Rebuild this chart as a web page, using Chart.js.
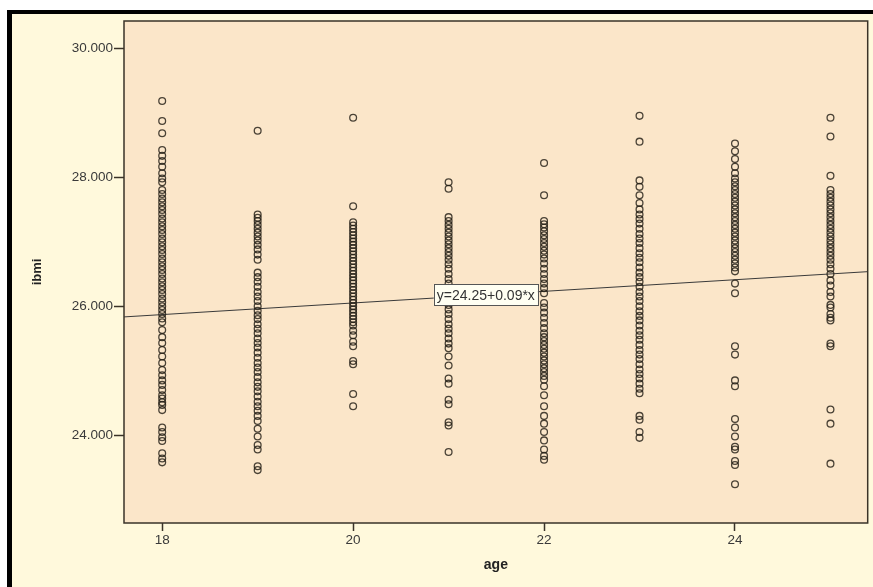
<!DOCTYPE html>
<html>
<head>
<meta charset="utf-8">
<script src="https://cdn.jsdelivr.net/npm/chart.js@4.4.1/dist/chart.umd.min.js"></script>
<style>
html,body{margin:0;padding:0;background:#fff;}
#wrap{width:873px;height:587px;position:relative;}
canvas{display:block;}
</style>
</head>
<body>
<div id="wrap"><canvas id="c" width="873" height="587"></canvas></div>
<script>
// ---- data ----
const ages = [18, 19, 20, 21, 22, 23, 24, 25];
const ibmi18 = [29.18, 28.87, 28.68, 28.42, 28.33, 28.25, 28.16, 28.06, 27.98, 27.92, 27.80, 27.74, 27.67, 27.61, 27.55, 27.49, 27.43, 27.36, 27.30, 27.24, 27.18, 27.12, 27.05, 26.99, 26.93, 26.87, 26.81, 26.74, 26.68, 26.62, 26.56, 26.50, 26.43, 26.37, 26.31, 26.25, 26.19, 26.12, 26.06, 26.00, 25.94, 25.88, 25.81, 25.75, 25.63, 25.52, 25.43, 25.32, 25.22, 25.12, 25.01, 24.93, 24.85, 24.78, 24.70, 24.62, 24.57, 24.51, 24.47, 24.39, 24.12, 24.05, 23.97, 23.91, 23.72, 23.64, 23.58];
const ibmi19 = [28.72, 27.42, 27.37, 27.32, 27.26, 27.20, 27.14, 27.08, 27.02, 26.95, 26.88, 26.80, 26.72, 26.52, 26.45, 26.38, 26.30, 26.22, 26.15, 26.08, 26.00, 25.93, 25.86, 25.80, 25.72, 25.65, 25.58, 25.50, 25.43, 25.36, 25.28, 25.20, 25.12, 25.05, 24.98, 24.90, 24.82, 24.75, 24.68, 24.60, 24.52, 24.45, 24.38, 24.30, 24.22, 24.10, 23.98, 23.85, 23.78, 23.52, 23.46];
const ibmi20 = [28.92, 27.55, 27.30, 27.25, 27.20, 27.15, 27.10, 27.05, 27.00, 26.95, 26.90, 26.85, 26.80, 26.75, 26.70, 26.65, 26.60, 26.55, 26.50, 26.45, 26.40, 26.35, 26.30, 26.25, 26.20, 26.15, 26.10, 26.05, 26.00, 25.95, 25.90, 25.85, 25.80, 25.75, 25.70, 25.62, 25.55, 25.45, 25.38, 25.15, 25.10, 24.64, 24.45];
const ibmi21 = [27.92, 27.82, 27.38, 27.32, 27.26, 27.20, 27.14, 27.08, 27.02, 26.96, 26.90, 26.84, 26.78, 26.72, 26.65, 26.58, 26.50, 26.42, 26.35, 26.25, 26.10, 26.02, 25.95, 25.88, 25.80, 25.72, 25.65, 25.58, 25.50, 25.42, 25.35, 25.22, 25.08, 24.88, 24.80, 24.55, 24.48, 24.20, 24.15, 23.74];
const ibmi22 = [28.22, 27.72, 27.32, 27.27, 27.22, 27.16, 27.10, 27.04, 26.98, 26.92, 26.86, 26.80, 26.74, 26.66, 26.58, 26.50, 26.42, 26.35, 26.28, 26.20, 26.05, 25.98, 25.90, 25.82, 25.74, 25.66, 25.58, 25.52, 25.46, 25.40, 25.34, 25.28, 25.22, 25.16, 25.10, 25.04, 24.98, 24.92, 24.86, 24.76, 24.62, 24.45, 24.30, 24.18, 24.05, 23.92, 23.78, 23.68, 23.62];
const ibmi23 = [28.95, 28.55, 27.95, 27.85, 27.72, 27.60, 27.50, 27.42, 27.35, 27.28, 27.20, 27.12, 27.05, 26.98, 26.90, 26.82, 26.75, 26.68, 26.60, 26.52, 26.45, 26.38, 26.30, 26.22, 26.15, 26.08, 26.00, 25.92, 25.85, 25.78, 25.70, 25.62, 25.55, 25.48, 25.40, 25.32, 25.25, 25.18, 25.10, 25.02, 24.95, 24.88, 24.80, 24.72, 24.65, 24.30, 24.24, 24.05, 23.96];
const ibmi24 = [28.52, 28.40, 28.28, 28.16, 28.06, 27.98, 27.92, 27.86, 27.80, 27.74, 27.68, 27.62, 27.56, 27.50, 27.44, 27.38, 27.32, 27.26, 27.20, 27.14, 27.08, 27.02, 26.96, 26.90, 26.84, 26.78, 26.72, 26.66, 26.60, 26.54, 26.35, 26.20, 25.38, 25.25, 24.85, 24.76, 24.25, 24.12, 23.98, 23.82, 23.78, 23.60, 23.54, 23.24];
const ibmi25 = [28.92, 28.63, 28.02, 27.80, 27.74, 27.68, 27.62, 27.56, 27.50, 27.44, 27.38, 27.32, 27.26, 27.20, 27.14, 27.08, 27.02, 26.96, 26.90, 26.84, 26.78, 26.72, 26.65, 26.58, 26.50, 26.40, 26.32, 26.22, 26.15, 26.02, 25.98, 25.88, 25.82, 25.78, 25.42, 25.38, 24.40, 24.18, 23.56];
const ibmiByAge = [ibmi18, ibmi19, ibmi20, ibmi21, ibmi22, ibmi23, ibmi24, ibmi25];
const fitIntercept = 24.25;
const fitSlope = 0.09;
const fitLabel = 'y=24.25+0.09*x';
const fitLabelAge = 21.39;
const xTicks = [18, 20, 22, 24];
const yTicks = [24, 26, 28, 30];
const xMin = 17.6, xMax = 25.39;
const yMin = 22.64, yMax = 30.42;

// ---- build points ----
const points = [];
ages.forEach((a, i) => ibmiByAge[i].forEach(v => points.push({x: a, y: v})));
const fitLine = [xMin, xMax].map(x => ({x: x, y: fitIntercept + fitSlope * x}));

const OUTER_BG = '#FFF9DC';
const PLOT_BG = '#FBE6C9';
const INK = '#3a3328';
const FONT = '"Liberation Sans", Arial, sans-serif';

const decor = {
  id: 'decor',
  beforeDraw(chart) {
    const ctx = chart.ctx, a = chart.chartArea;
    ctx.save();
    ctx.fillStyle = '#ffffff';
    ctx.fillRect(0, 0, chart.width, chart.height);
    ctx.fillStyle = OUTER_BG;
    ctx.fillRect(7, 10, chart.width - 7, chart.height - 10);
    ctx.fillStyle = '#000';
    ctx.fillRect(7, 10, 5, chart.height - 10);
    ctx.fillRect(7, 10, chart.width - 7, 4);
    ctx.fillStyle = PLOT_BG;
    ctx.fillRect(a.left, a.top, a.right - a.left, a.bottom - a.top);
    ctx.restore();
  },
  afterDraw(chart) {
    const ctx = chart.ctx, a = chart.chartArea;
    ctx.save();
    ctx.strokeStyle = INK;
    ctx.lineWidth = 1.5;
    ctx.strokeRect(a.left, a.top, a.right - a.left, a.bottom - a.top);
    // fit label
    const xs = chart.scales.x, ys = chart.scales.y;
    const cx = xs.getPixelForValue(fitLabelAge);
    const cy = ys.getPixelForValue(fitIntercept + fitSlope * fitLabelAge);
    ctx.font = '14px ' + FONT;
    const w = ctx.measureText(fitLabel).width + 6;
    const h = 21;
    ctx.fillStyle = '#FFFFF2';
    ctx.fillRect(cx - w / 2, cy - h / 2, w, h);
    ctx.strokeStyle = '#555';
    ctx.lineWidth = 1;
    ctx.strokeRect(Math.round(cx - w / 2) + 0.5, Math.round(cy - h / 2) + 0.5, Math.round(w), h);
    ctx.fillStyle = '#333';
    ctx.textAlign = 'center';
    ctx.textBaseline = 'middle';
    ctx.fillText(fitLabel, cx, cy + 1);
    ctx.restore();
  }
};

new Chart(document.getElementById('c'), {
  type: 'scatter',
  data: {
    datasets: [
      {
        type: 'line',
        data: fitLine,
        borderColor: '#3a3a3a',
        borderWidth: 1,
        pointRadius: 0,
        fill: false,
        order: 2
      },
      {
        data: points,
        pointRadius: 3.4,
        pointStyle: 'circle',
        borderWidth: 1.3,
        borderColor: 'rgba(35,30,22,0.82)',
        backgroundColor: 'rgba(0,0,0,0)',
        order: 1
      }
    ]
  },
  options: {
    responsive: false,
    animation: false,
    events: [],
    layout: {padding: {left: 0, top: 21, right: 4, bottom: 0}},
    plugins: {legend: {display: false}, tooltip: {enabled: false}},
    scales: {
      x: {
        type: 'linear',
        min: xMin, max: xMax,
        afterBuildTicks: s => { s.ticks = xTicks.map(v => ({value: v})); },
        afterFit: s => { s.height = 64; },
        grid: {drawOnChartArea: false, drawTicks: true, tickLength: 8, tickColor: INK, tickWidth: 1.5},
        border: {display: false},
        ticks: {padding: 1, color: '#3a3a3a', font: {family: FONT, size: 13.5}, maxRotation: 0,
          callback: v => String(v)},
        title: {display: true, text: 'age', color: '#222', padding: {top: 0, bottom: 13},
          font: {family: FONT, size: 14, weight: 'bold'}}
      },
      y: {
        type: 'linear',
        min: yMin, max: yMax,
        afterBuildTicks: s => { s.ticks = yTicks.map(v => ({value: v})); },
        afterFit: s => { s.width = 124; },
        grid: {drawOnChartArea: false, drawTicks: true, tickLength: 10, tickColor: INK, tickWidth: 1.5},
        border: {display: false},
        ticks: {padding: 1, color: '#3a3a3a', font: {family: FONT, size: 13.5},
          callback: v => Number(v).toFixed(3)},
        title: {display: true, text: 'ibmi', color: '#222', padding: {top: 30, bottom: 0},
          font: {family: FONT, size: 13, weight: 'bold'}}
      }
    }
  },
  plugins: [decor]
});
</script>
</body>
</html>
